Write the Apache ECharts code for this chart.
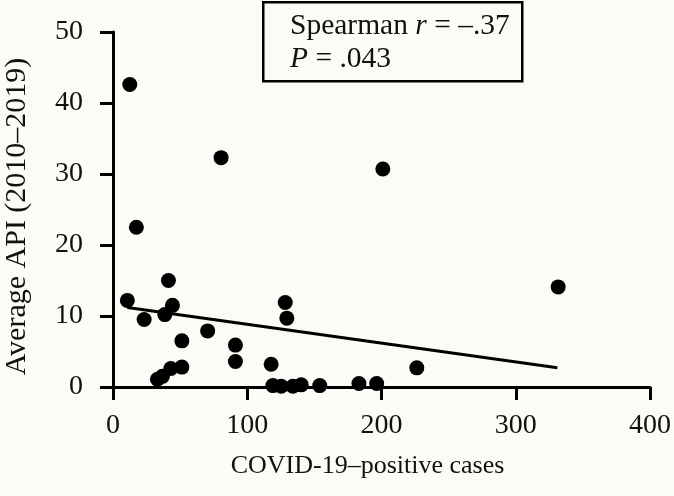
<!DOCTYPE html>
<html>
<head>
<meta charset="utf-8">
<script src="https://cdn.jsdelivr.net/npm/echarts@6/dist/echarts.min.js"></script>
<style>
html,body{margin:0;padding:0;background:#fcfcf7;}
#chart{width:674px;height:496px;}
</style>
</head>
<body>
<div id="chart"></div>
<script>
// COVID-19-positive cases (x) vs average API 2010-2019 (y)
const casesX = [12.5, 80.5, 201, 17.4, 41.3, 331.6, 10.7, 128.3, 44.3, 38.6, 129.5, 23.2, 70.5, 51.3, 91.2, 91.2, 117.8, 51.3, 226.3, 43.1, 36.8, 33.1, 183.2, 196.4, 119.1, 125.3, 134, 140.2, 154];
const apiY   = [42.6, 32.3, 30.7, 22.5, 15.0, 14.1, 12.2, 11.9, 11.5, 10.2, 9.7, 9.5, 7.9, 6.5, 5.9, 3.6, 3.2, 2.8, 2.7, 2.6, 1.5, 1.1, 0.5, 0.5, 0.2, 0.1, 0.1, 0.3, 0.2];
// fitted trend line endpoints
const trendX = [10.7, 331];
const trendY = [11.2, 2.7];
const xTicks = [0, 100, 200, 300, 400];
const yTicks = [0, 10, 20, 30, 40, 50];
const statLine1 = 'Spearman ';
const statR = 'r';
const statLine1b = ' = \u2013.37';
const statP = 'P';
const statLine2b = ' = .043';

const FONT = "'Liberation Serif', 'DejaVu Serif', serif";
const chart = echarts.init(document.getElementById('chart'));

const axisCommon = {
  type: 'value',
  splitLine: {show: false},
  axisLine: {show: true, onZero: false, lineStyle: {color: '#000', width: 3}},
  axisTick: {show: true, inside: false, length: 13, lineStyle: {color: '#000', width: 3}},
  nameLocation: 'middle'
};

chart.setOption({
  backgroundColor: '#fcfcf7',
  animation: false,
  grid: {left: 113, right: 24, top: 32, bottom: 109, containLabel: false, outerBoundsMode: 'none'},
  xAxis: Object.assign({}, axisCommon, {
    min: xTicks[0], max: xTicks[xTicks.length - 1], interval: xTicks[1] - xTicks[0],
    name: 'COVID-19\u2013positive cases',
    nameGap: 66,
    nameTextStyle: {fontFamily: FONT, fontSize: 26, color: '#111', padding: [0, 28, 0, 0]},
    axisLabel: {fontFamily: FONT, fontSize: 28, color: '#111', margin: 25}
  }),
  yAxis: Object.assign({}, axisCommon, {
    min: yTicks[0], max: yTicks[yTicks.length - 1], interval: yTicks[1] - yTicks[0],
    name: 'Average API (2010\u20132019)',
    nameGap: 81,
    nameTextStyle: {fontFamily: FONT, fontSize: 30, color: '#111', padding: [0, 14, 0, 0]},
    axisLabel: {fontFamily: FONT, fontSize: 28, color: '#111', margin: 30}
  }),
  series: [
    {
      type: 'line',
      data: trendX.map((x, i) => [x, trendY[i]]),
      showSymbol: false,
      symbol: 'none',
      lineStyle: {color: '#000', width: 3},
      z: 2
    },
    {
      type: 'scatter',
      data: casesX.map((x, i) => [x, apiY[i]]),
      symbol: 'circle',
      symbolSize: 15,
      itemStyle: {color: '#000', opacity: 1},
      z: 3
    }
  ],
  graphic: [
    {
      type: 'rect',
      left: 262, top: 1,
      shape: {width: 259, height: 79},
      style: {fill: '#fcfcf7', stroke: '#000', lineWidth: 2.5},
      z: 10
    },
    {
      type: 'text',
      left: 290, top: 11,
      style: {
        text: '{n|' + statLine1 + '}{i|' + statR + '}{n|' + statLine1b + '}\n{i|' + statP + '}{n|' + statLine2b + '}',
        rich: {
          n: {fontFamily: FONT, fontSize: 29.5, fill: '#111', lineHeight: 33},
          i: {fontFamily: FONT, fontSize: 29.5, fontStyle: 'italic', fill: '#111', lineHeight: 33}
        }
      },
      z: 11
    }
  ]
});
</script>
</body>
</html>
